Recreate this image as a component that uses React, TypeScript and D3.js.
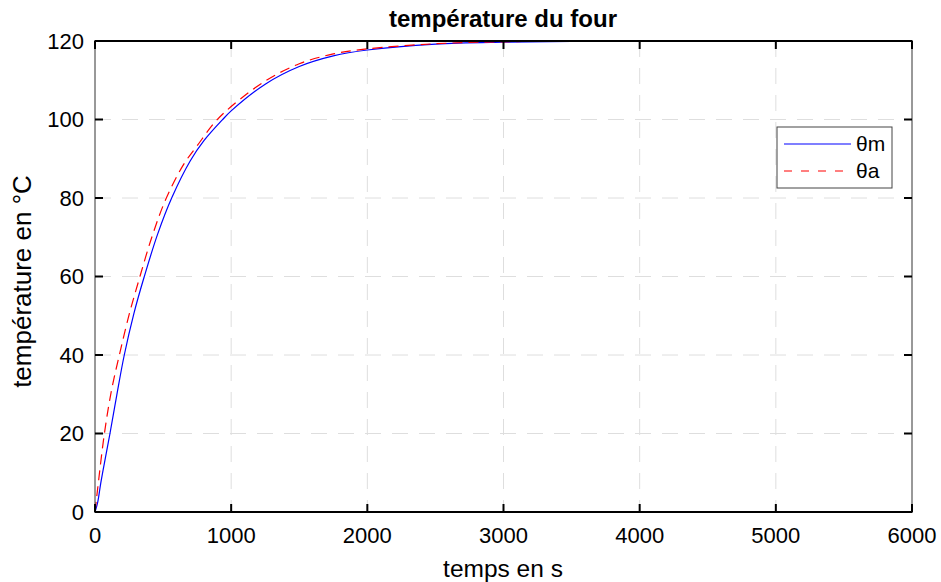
import React from 'react';
import * as d3 from 'd3';

// temps (s) et températures
const timeM = [0, 20, 42, 78, 110, 160, 215, 285, 362, 460, 563, 700, 800, 935, 1000, 1250, 1500, 1750, 2000, 2500, 3000, 3500, 4000, 5000, 6000];
const thetaM = [0, 2.5, 7.3, 14.1, 20, 29.8, 40, 50.5, 60, 70.8, 80, 89.5, 94.6, 99.9, 102.2, 109, 113.5, 116.2, 117.7, 119.2, 119.7, 119.9, 120, 120, 120];

const timeA = [0, 10, 24, 69, 120, 179, 250, 330, 420, 519, 650, 750, 885, 1000, 1250, 1500, 1750, 2000, 2500, 3000, 3500, 4000, 5000, 6000];
const thetaA = [0, 3.1, 7.3, 20, 30.8, 40, 50.2, 60, 70.3, 79.6, 88.5, 93.3, 99.5, 103.3, 109.8, 114.2, 116.7, 118, 119.3, 119.8, 119.95, 120, 120, 120];

const xTicks = [0, 1000, 2000, 3000, 4000, 5000, 6000];
const yTicks = [0, 20, 40, 60, 80, 100, 120];

const W = 941;
const H = 582;
const left = 95, right = 912, top = 41, bottom = 512;
const font = '"Liberation Sans", Arial, sans-serif';

export default function App() {
  const x = d3.scaleLinear().domain([0, 6000]).range([left, right]);
  const y = d3.scaleLinear().domain([0, 120]).range([bottom, top]);

  const lineM = d3.line<number>()
    .x((d, i) => x(timeM[i]))
    .y(d => y(d))
    .curve(d3.curveCatmullRom.alpha(0.5));
  const lineA = d3.line<number>()
    .x((d, i) => x(timeA[i]))
    .y(d => y(d))
    .curve(d3.curveCatmullRom.alpha(0.5));

  return (
    <svg width={W} height={H} style={{ position: 'absolute', left: 0, top: 0, background: '#fff' }} fontFamily={font}>
      <rect x={0} y={0} width={W} height={H} fill="#fff" />
      {/* grille */}
      {xTicks.slice(1, -1).map(t => (
        <line key={'gx' + t} x1={x(t)} x2={x(t)} y1={top} y2={bottom} stroke="#dedede" strokeWidth={1} strokeDasharray="16,11" />
      ))}
      {yTicks.slice(1, -1).map(t => (
        <line key={'gy' + t} x1={left} x2={right} y1={y(t)} y2={y(t)} stroke="#dedede" strokeWidth={1} strokeDasharray="16,11" />
      ))}

      {/* courbes */}
      <path d={lineM(thetaM) || ''} fill="none" stroke="#0000ff" strokeWidth={1.2} />
      <path d={lineA(thetaA) || ''} fill="none" stroke="#ff0000" strokeWidth={1.2} strokeDasharray="10,6" />

      {/* cadre */}
      <line x1={left} x2={left} y1={top} y2={bottom} stroke="#333" strokeWidth={1} />
      <line x1={right} x2={right} y1={top} y2={bottom} stroke="#333" strokeWidth={1} />
      <line x1={left - 0.5} x2={right + 0.5} y1={top} y2={top} stroke="#000" strokeWidth={2} />
      <line x1={left - 0.5} x2={right + 0.5} y1={bottom} y2={bottom} stroke="#000" strokeWidth={2} />

      {/* graduations */}
      {xTicks.map(t => (
        <g key={'tx' + t}>
          <line x1={x(t)} x2={x(t)} y1={bottom} y2={bottom - 8} stroke="#000" strokeWidth={2} />
          <line x1={x(t)} x2={x(t)} y1={top} y2={top + 8} stroke="#000" strokeWidth={2} />
          <text x={x(t)} y={bottom + 31} textAnchor="middle" fontSize={22} fill="#000">{t}</text>
        </g>
      ))}
      {yTicks.map(t => (
        <g key={'ty' + t}>
          <line x1={left} x2={left + 8} y1={y(t)} y2={y(t)} stroke="#000" strokeWidth={2} />
          <line x1={right} x2={right - 8} y1={y(t)} y2={y(t)} stroke="#000" strokeWidth={2} />
          <text x={left - 11} y={y(t) + 7.5} textAnchor="end" fontSize={22} fill="#000">{t}</text>
        </g>
      ))}

      {/* titres */}
      <text x={503} y={27} textAnchor="middle" fontSize={24} fontWeight="bold" fill="#000">température du four</text>
      <text x={503} y={577} textAnchor="middle" fontSize={24.5} fill="#000">temps en s</text>
      <text transform={`translate(31,${(top + bottom) / 2 + 5}) rotate(-90)`} textAnchor="middle" fontSize={26} fill="#000">température en °C</text>

      {/* légende */}
      <rect x={777} y={127} width={115} height={61} fill="#fff" stroke="#444" strokeWidth={1} />
      <line x1={784} x2={851} y1={144} y2={144} stroke="#0000ff" strokeWidth={1.2} />
      <line x1={784} x2={851} y1={171} y2={171} stroke="#ff0000" strokeWidth={1.2} strokeDasharray="8,9" />
      <text x={856} y={151} fontSize={21} fill="#000">θm</text>
      <text x={856} y={178} fontSize={21} fill="#000">θa</text>
    </svg>
  );
}
